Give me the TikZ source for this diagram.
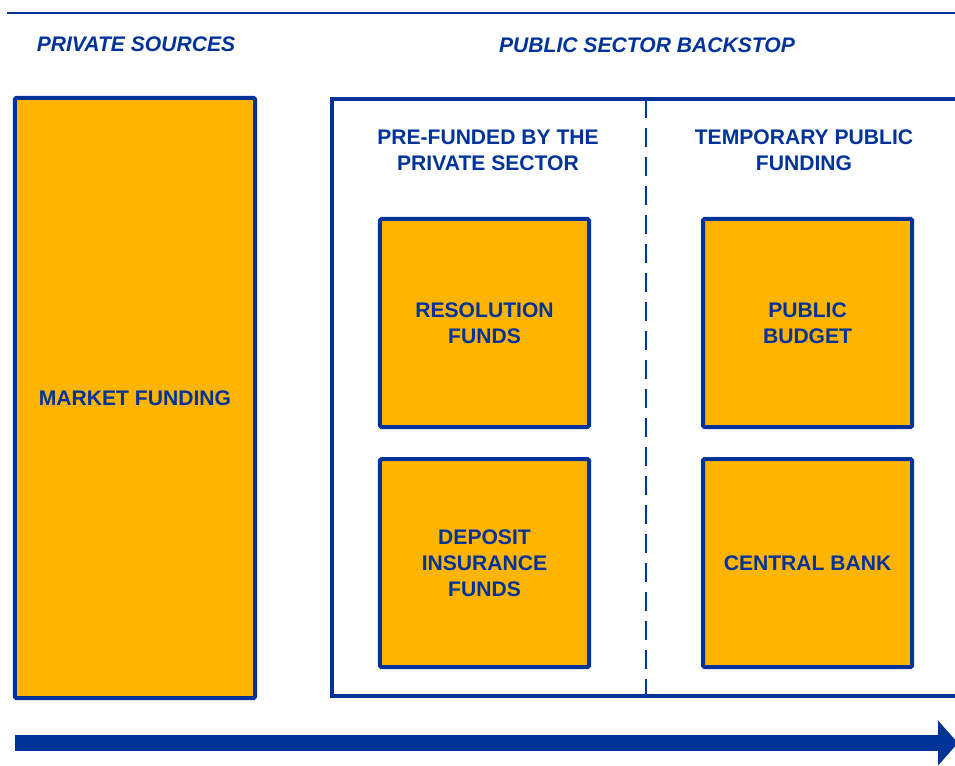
\documentclass[tikz,border=0pt]{standalone}
\usepackage{fontspec}
\setmainfont{Liberation Sans}
\usetikzlibrary{positioning,arrows.meta}
\definecolor{ecbblue}{RGB}{0,51,153}
\definecolor{ecbyellow}{RGB}{255,180,0}
\tikzset{
  fund box/.style={rectangle, draw=ecbblue, fill=ecbyellow, line width=0.1cm, rounded corners=1pt,
    minimum width=5.225cm, minimum height=5.2cm, align=center, text=ecbblue,
    font=\fontsize{15}{18.5}\selectfont\bfseries},
  head label/.style={text=ecbblue, font=\fontsize{15}{18.5}\selectfont\bfseries\itshape},
  col label/.style={text=ecbblue, align=center, font=\fontsize{15}{18.5}\selectfont\bfseries}
}
\begin{document}
\begin{tikzpicture}[x=0.025cm, y=-0.025cm, node distance=0.7cm]
        \clip (0,0) rectangle (955,765);

          % top rule and headings
          \coordinate (rulestart) at (7,13);
          \coordinate (ruleend) at (955,13);
          \draw[ecbblue, line width=0.05cm] (rulestart) -- (ruleend);
          \node[head label] (private) at (136,44) {PRIVATE SOURCES};
          \node[head label] (public) at (647,45) {PUBLIC SECTOR BACKSTOP};

          % left column
          \node[fund box, minimum width=6cm, minimum height=15cm] (market) at (135,398) {MARKET FUNDING};

          % right frame, open to the right
          \node[rectangle, draw=ecbblue, line width=0.1cm, minimum width=16.7cm, minimum height=14.925cm] (backstop) at (666,397.5) {};
          \coordinate (divtop) at (646,99);
          \coordinate (divbottom) at (646,696);
          \draw[ecbblue, line width=0.05cm, dash pattern=on 0.475cm off 0.25cm] (divtop) -- (divbottom);

          \node[col label] (prefund) at (488,150) {PRE-FUNDED BY THE\\PRIVATE SECTOR};
          \node[col label] (temporary) at (804,150) {TEMPORARY PUBLIC\\FUNDING};

          \node[fund box] (resolution) at (484.5,323) {RESOLUTION\\FUNDS};
          \node[fund box] (deposit) [below=of resolution] {DEPOSIT\\INSURANCE\\FUNDS};
          \node[fund box] (budget) [right=2.75cm of resolution] {PUBLIC\\BUDGET};
          \node[fund box] (central) [below=of budget] {CENTRAL BANK};

          % bottom arrow
          \coordinate (flowstart) at (15,743);
          \coordinate (flowend) at (958,743);
          \draw[ecbblue, line width=0.4cm, -{Triangle[length=0.5cm, width=1.1cm]}] (flowstart) -- (flowend);

        \end{tikzpicture}
\end{document}
